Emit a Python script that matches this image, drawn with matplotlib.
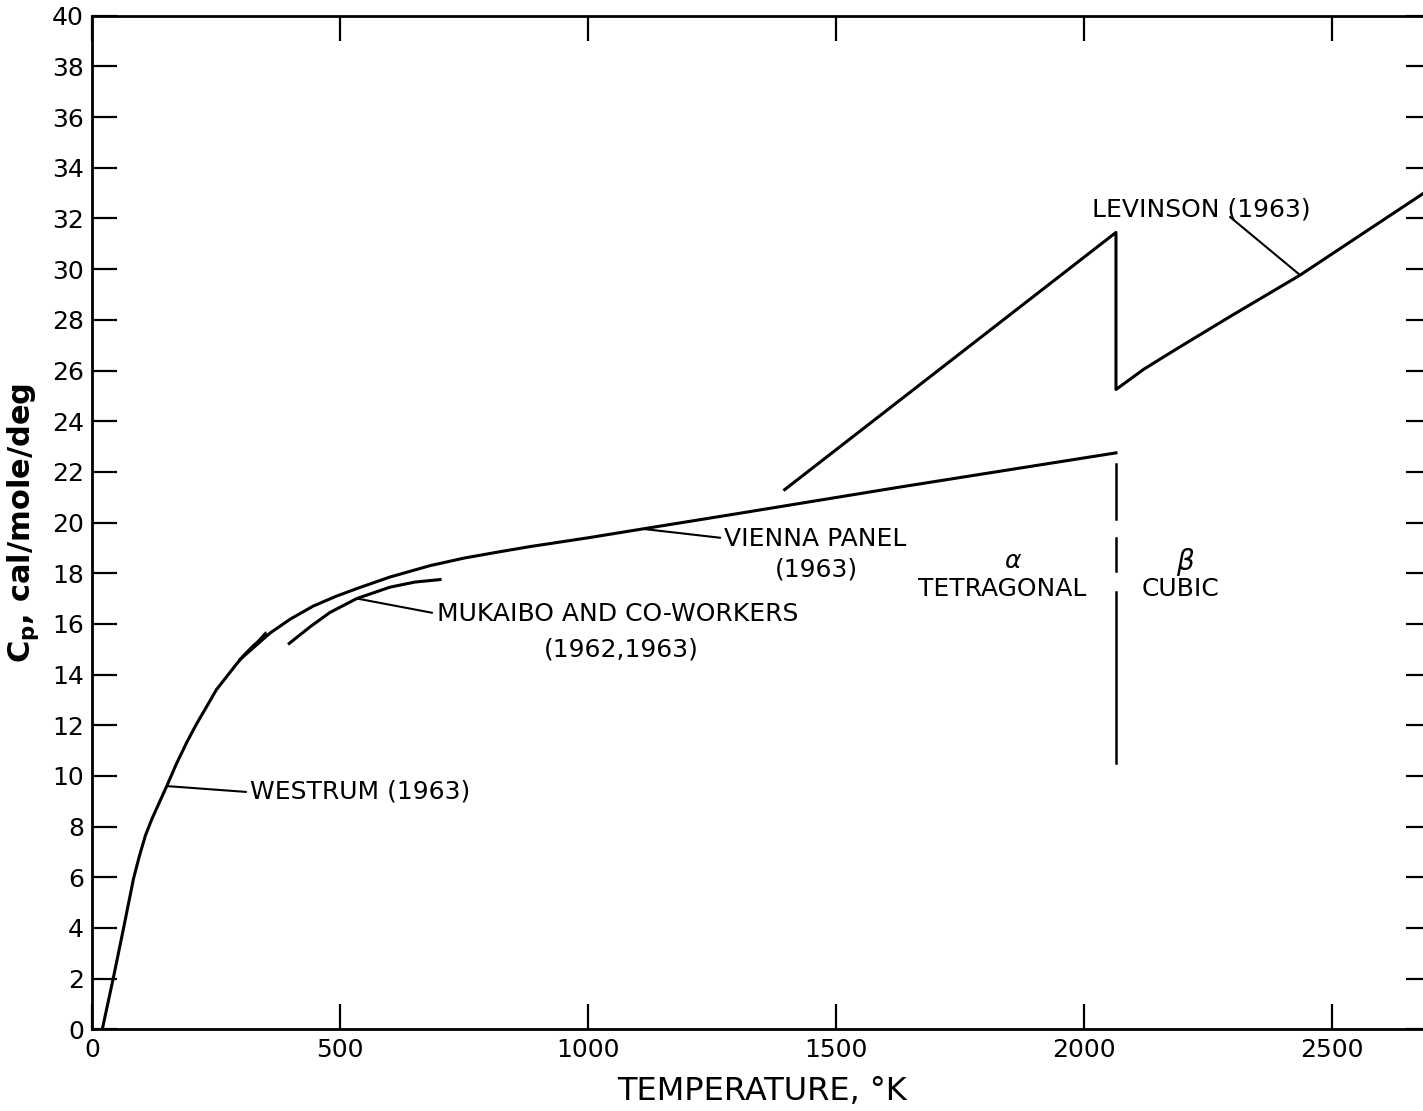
import matplotlib
matplotlib.use("Agg")
import matplotlib.pyplot as plt

# Westrum (1963), low temperature
westrum_T = [20, 42, 63, 83, 95, 107, 120, 135, 150, 170, 191, 210, 230, 250,
             274, 290, 305, 325, 350]
westrum_cp = [0.0, 2.0, 4.0, 5.95, 6.85, 7.65, 8.3, 8.95, 9.6, 10.5, 11.35,
              12.05, 12.72, 13.4, 14.0, 14.4, 14.75, 15.15, 15.55]

# Vienna Panel (1963)
vienna_T = [298, 330, 359, 400, 445, 490, 534, 600, 681, 750, 822, 882, 1000,
            1110, 1300, 1628, 2064]
vienna_cp = [14.6, 15.15, 15.65, 16.2, 16.7, 17.08, 17.4, 17.85, 18.3, 18.6,
             18.85, 19.05, 19.4, 19.75, 20.35, 21.4, 22.75]

# Mukaibo and co-workers (1962, 1963)
mukaibo_T = [397, 440, 479, 533, 600, 650, 701]
mukaibo_cp = [15.23, 15.9, 16.45, 17.0, 17.45, 17.65, 17.75]

# Levinson (1963), alpha branch, drop at transition, beta branch
levinson_T = [1396, 2064, 2064, 2120, 2186, 2300, 2434, 2700]
levinson_cp = [21.3, 31.45, 25.25, 26.05, 26.85, 28.2, 29.75, 33.2]

# alpha/beta transition marker (dashed)
transition_T = 2065
transition_segments = [(22.3, 20.16), (19.4, 18.1), (17.27, 10.5)]

x_ticks = [0, 500, 1000, 1500, 2000, 2500]
y_ticks = list(range(0, 41, 2))

plt.rcParams['font.family'] = 'DejaVu Sans'

fig = plt.figure(figsize=(14.23, 11.11), dpi=100)
ax = fig.add_axes([0.0649, 0.0735, 0.941, 0.9123])

lw = 2.2
ax.plot(westrum_T, westrum_cp, color='black', lw=lw)
ax.plot(vienna_T, vienna_cp, color='black', lw=lw)
ax.plot(mukaibo_T, mukaibo_cp, color='black', lw=lw)
ax.plot(levinson_T, levinson_cp, color='black', lw=lw)
for top, bottom in transition_segments:
    ax.plot([transition_T, transition_T], [top, bottom], color='black', lw=1.8)

# small barb on the Westrum curve
ax.plot([349, 322], [15.64, 15.05], color='black', lw=1.8)

ax.set_xlim(0, 2700)
ax.set_ylim(0, 40)
ax.set_xticks(x_ticks)
ax.set_yticks(y_ticks)
ax.tick_params(direction='in', length=18, width=1.6, labelsize=18,
               top=True, right=True, pad=6)
for s in ax.spines.values():
    s.set_linewidth(2.0)

ax.set_xlabel('TEMPERATURE, °K', fontsize=23, labelpad=10)
ax.set_ylabel('C$_\\mathbf{p}$, cal/mole/deg', fontsize=22, fontweight='bold', labelpad=8)

fs = 18
leader = dict(arrowstyle='-', color='black', lw=1.5, shrinkA=0, shrinkB=0)

ax.annotate('', xy=(150, 9.6), xytext=(310, 9.37), arrowprops=leader)
ax.text(318, 9.37, 'WESTRUM (1963)', fontsize=fs, ha='left', va='center')

ax.annotate('', xy=(534, 17.0), xytext=(685, 16.44), arrowprops=leader)
ax.text(695, 16.39, 'MUKAIBO AND CO-WORKERS', fontsize=fs, ha='left', va='center')
ax.text(1066, 15.0, '(1962,1963)', fontsize=fs, ha='center', va='center')

ax.annotate('', xy=(1110, 19.75), xytext=(1266, 19.4), arrowprops=leader)
ax.text(1274, 19.35, 'VIENNA PANEL', fontsize=fs, ha='left', va='center')
ax.text(1461, 18.13, '(1963)', fontsize=fs, ha='center', va='center')

ax.text(1857, 18.5, '$\\alpha$', fontsize=fs, ha='center', va='center')
ax.text(1834, 17.36, 'TETRAGONAL', fontsize=fs, ha='center', va='center')
ax.text(2205, 18.45, '$\\beta$', fontsize=fs + 2, ha='center', va='center')
ax.text(2195, 17.36, 'CUBIC', fontsize=fs, ha='center', va='center')

ax.annotate('', xy=(2435, 29.77), xytext=(2294, 32.06), arrowprops=leader)
ax.text(2016, 32.37, 'LEVINSON (1963)', fontsize=fs, ha='left', va='center')

fig.savefig('out.png', dpi=100)
